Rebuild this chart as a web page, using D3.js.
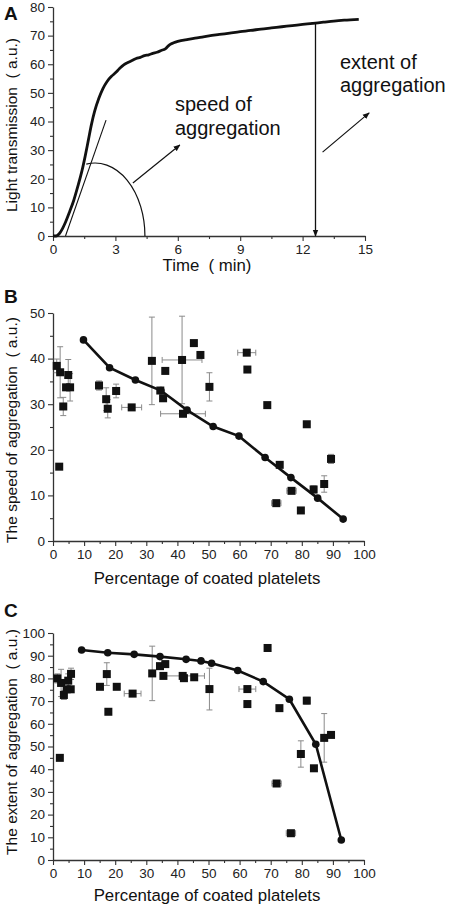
<!DOCTYPE html>
<html><head><meta charset="utf-8">
<script src="https://cdn.jsdelivr.net/npm/d3@7"></script>
<style>
html,body{margin:0;padding:0;background:#fff;}
svg{display:block;font-family:"Liberation Sans",Arial,sans-serif;}
</style></head>
<body>
<svg id="chart" width="450" height="906"></svg>
<script>
// ---------- Panel A data ----------
const timeMin = [0,0.15,0.3,0.45,0.6,0.8,1.0,1.2,1.4,1.55,1.7,1.85,2.0,2.2,2.4,2.6,2.8,3.0,3.2,3.4,3.6,3.8,4.0,4.2,4.4,4.6,4.8,5.0,5.2,5.4,5.6,5.8,6.0,6.5,7.0,7.5,8.0,8.5,9.0,9.5,10,10.5,11,11.5,12,12.5,13,13.5,14,14.7];
const transmission = [0,0,0.8,2.5,4.8,8.5,12.5,17.5,23,28,33.5,39,43.5,48,51.5,54,55.7,57,58.5,59.8,60.6,61.3,62,62.4,63,63.3,63.8,64.2,64.8,65.4,66.8,67.5,68,68.7,69.3,69.9,70.4,70.9,71.4,71.8,72.3,72.7,73.1,73.5,73.9,74.3,74.7,75.1,75.4,75.7];
const tangentT = [0.6, 2.55];
const tangentV = [0, 40.5];
const arcCenter = [2.02, 0];   // ellipse centre (min, a.u.)
const arcRadii = [2.4, 25.5];  // ellipse radii (min, a.u.)
const arcStartT = 1.6;
const arrowSpeed = [[3.84,18.5],[6.1,31.8]];
const arrowExtent = [[12.96,29.3],[15.2,43]];
const extentT = 12.62, extentV = 74.5;
const ticksA_x = [0,3,6,9,12,15];
const ticksA_y = [0,10,20,30,40,50,60,70,80];

// ---------- Panel B data ----------
const bLineX = [9.8,18.2,26.5,34.7,43.1,51.5,59.8,68.2,76.5,85.1,93.3];
const bLineY = [44.1,38.0,35.3,33.0,28.7,25.1,23.0,18.3,13.9,9.4,4.8];
const bX    = [1.2,2.3,3.3,4.9,4.2,5.5,14.8,17.1,17.6,20.3,25.3,31.8,34.5,35.4,36.1,41.5,41.8,45.3,47.4,50.3,62.3,62.5,68.9,81.6,2.0,72.9,76.7,71.8,79.7,83.8,87.2,89.4];
const bY    = [38.4,37.0,29.5,36.4,33.7,33.7,34.1,31.1,29.0,32.9,29.3,39.5,33.0,31.3,37.3,39.7,27.9,43.4,40.8,33.8,41.3,37.6,29.8,25.6,16.3,16.7,11.0,8.3,6.7,11.3,12.5,18.0];
const bYErr = [1.5,5.6,2,3.4,0,3,1,2.5,2,1.5,0,9.6,0,0,0,9.6,0,0,0,3.1,0,0,0,0,0,0,0,0,0,0.8,1.8,1];
const bXErr = [0,0,0,0,0,0,0,0,0,0,3.2,0,0,0,0,6.4,7.2,0,0,0,2.9,0,0,0,0,0,1.5,1.5,0,0,0,0];

// ---------- Panel C data ----------
const cLineX = [9.2,17.6,26.1,34.4,42.8,47.6,51.0,59.4,67.6,76.0,84.5,92.7];
const cLineY = [92.5,91.3,90.6,89.6,88.4,87.7,86.7,83.5,78.6,70.8,51.0,8.8];
const cX    = [1.4,2.6,3.5,4.4,4.9,5.8,5.7,15.1,17.3,17.8,20.5,25.6,31.9,34.4,36.1,35.5,41.7,42.1,45.4,50.3,69.0,62.5,62.5,72.8,81.6,87.2,89.4,79.7,83.9,71.9,76.5,2.2];
const cY    = [80.0,78.0,72.7,75.2,79.0,82.0,75.2,76.3,81.9,65.3,76.3,73.3,82.2,85.4,86.3,81.1,81.1,80.1,80.5,75.3,93.4,75.3,68.7,66.9,70.2,53.8,55.1,46.7,40.4,33.7,11.8,45.0];
const cYErr = [2,6,2,0,3,2.5,0,0,5,0,0,0,12,0,0,0,0,0,0,9.2,0,0,0,0,1.5,10.7,0,5.8,0,0,0,0];
const cXErr = [0,0,0,0,0,0,0,0,0,0,0,2.7,0,0,0,0,7,0,0,0,0,2.7,0,0,0,0,0,0,0,1.5,1.5,0];
const ticksBC_x = [0,10,20,30,40,50,60,70,80,90,100];
const ticksB_y = [0,10,20,30,40,50];
const ticksC_y = [0,10,20,30,40,50,60,70,80,90,100];

const svg = d3.select("#chart");
const AX = "#333", TXT = "#222", ERR = "#8a8a8a";
const GAP = "\u00a0\u00a0";

svg.append("defs").append("marker")
  .attr("id","ah").attr("viewBox","0 0 10 10").attr("refX",9).attr("refY",5)
  .attr("markerWidth",7).attr("markerHeight",7).attr("orient","auto-start-reverse")
  .attr("markerUnits","userSpaceOnUse")
  .append("path").attr("d","M0,1 L10,5 L0,9 Z").attr("fill","#111");

function drawAxes(g, x, y, xt, xMinor, yt, yMinor) {
  g.append("g").attr("transform",`translate(0,${y.range()[0]})`)
    .call(d3.axisBottom(x).tickValues(xt).tickSize(5).tickSizeOuter(0).tickPadding(3).tickFormat(d3.format("d")));
  g.append("g").attr("transform",`translate(0,${y.range()[0]})`)
    .call(d3.axisBottom(x).tickValues(xMinor).tickSize(3).tickSizeOuter(0).tickFormat(""))
    .select(".domain").remove();
  g.append("g").attr("transform",`translate(${x.range()[0]},0)`)
    .call(d3.axisLeft(y).tickValues(yt).tickSize(5).tickSizeOuter(0).tickPadding(3).tickFormat(d3.format("d")));
  g.append("g").attr("transform",`translate(${x.range()[0]},0)`)
    .call(d3.axisLeft(y).tickValues(yMinor).tickSize(3).tickSizeOuter(0).tickFormat(""))
    .select(".domain").remove();
  g.selectAll(".domain").attr("stroke",AX).attr("stroke-width",1.3);
  g.selectAll(".tick line").attr("stroke",AX).attr("stroke-width",1.1);
  g.selectAll(".tick text").attr("fill",TXT).style("font-size","13.5px").style("font-family","'Liberation Sans',Arial,sans-serif");
}

function label(txt, x, y, size, rot, weight) {
  const t = svg.append("text").text(txt).attr("fill","#111")
    .style("font-size",size+"px").attr("text-anchor","middle")
    .attr("font-weight",weight||"normal");
  if (rot) t.attr("transform",`translate(${x},${y}) rotate(-90)`);
  else t.attr("x",x).attr("y",y);
  return t;
}

// ---------- Panel A ----------
{
  const x = d3.scaleLinear([0,15],[53,365]);
  const y = d3.scaleLinear([0,80],[236,7]);
  const g = svg.append("g");
  drawAxes(g, x, y, ticksA_x, [1.5,4.5,7.5,10.5,13.5], ticksA_y, [5,15,25,35,45,55,65,75]);
  const line = d3.line().x((d,i)=>x(timeMin[i])).y(d=>y(d)).curve(d3.curveMonotoneX);
  g.append("path").datum(transmission).attr("d",line).attr("fill","none")
    .attr("stroke","#111").attr("stroke-width",2.8).attr("stroke-linejoin","round");
  g.append("line").attr("x1",x(tangentT[0])).attr("y1",y(tangentV[0]))
    .attr("x2",x(tangentT[1])).attr("y2",y(tangentV[1])).attr("stroke","#111").attr("stroke-width",1.1);
  const cx = x(arcCenter[0]), cy = y(arcCenter[1]);
  const rx = x(arcCenter[0]+arcRadii[0]) - cx, ry = cy - y(arcRadii[1]);
  const dx0 = x(arcStartT) - cx;
  const sy0 = cy - ry*Math.sqrt(1 - (dx0/rx)*(dx0/rx));
  g.append("path").attr("d",`M${x(arcStartT)},${sy0} A${rx},${ry} 0 0 1 ${cx+rx},${cy}`)
    .attr("fill","none").attr("stroke","#111").attr("stroke-width",1.2);
  [arrowSpeed, arrowExtent].forEach(a => {
    g.append("line").attr("x1",x(a[0][0])).attr("y1",y(a[0][1]))
      .attr("x2",x(a[1][0])).attr("y2",y(a[1][1])).attr("stroke","#111").attr("stroke-width",1.2)
      .attr("marker-end","url(#ah)");
  });
  g.append("line").attr("x1",x(extentT)).attr("y1",y(extentV)).attr("x2",x(extentT)).attr("y2",y(0))
    .attr("stroke","#111").attr("stroke-width",1.3).attr("marker-end","url(#ah)");
  g.append("line").attr("x1",x(extentT)-4).attr("y1",y(extentV)).attr("x2",x(extentT)+4).attr("y2",y(extentV))
    .attr("stroke","#111").attr("stroke-width",1.2);
  const ann = (t,xx,yy)=>svg.append("text").text(t).attr("x",xx).attr("y",yy).attr("fill","#111").style("font-size","20px");
  ann("speed of",175,111); ann("aggregation",175,135);
  ann("extent of",340,69); ann("aggregation",340,92);
  label("Time"+GAP+"( min)", 207, 271, 16.8);
  label("Light transmission"+GAP+"( a.u.)", 17, 125, 15.5, true);
  svg.append("text").text("A").attr("x",4).attr("y",20).attr("font-weight","bold").style("font-size","19px").attr("fill","#111");
}

function scatterPanel(x, y, lx, ly, px, py, ex, ey, xt, xm, yt, ym) {
  const g = svg.append("g");
  drawAxes(g, x, y, xt, xm, yt, ym);
  const eb = g.append("g").attr("stroke",ERR).attr("stroke-width",1);
  px.forEach((v,i)=>{
    if (ey[i]>0) {
      const X=x(v), y1=y(py[i]+ey[i]), y2=y(py[i]-ey[i]);
      eb.append("line").attr("x1",X).attr("x2",X).attr("y1",y1).attr("y2",y2);
      eb.append("line").attr("x1",X-3).attr("x2",X+3).attr("y1",y1).attr("y2",y1);
      eb.append("line").attr("x1",X-3).attr("x2",X+3).attr("y1",y2).attr("y2",y2);
    }
    if (ex[i]>0) {
      const Y=y(py[i]), x1=x(v-ex[i]), x2=x(v+ex[i]);
      eb.append("line").attr("x1",x1).attr("x2",x2).attr("y1",Y).attr("y2",Y);
      eb.append("line").attr("x1",x1).attr("x2",x1).attr("y1",Y-3).attr("y2",Y+3);
      eb.append("line").attr("x1",x2).attr("x2",x2).attr("y1",Y-3).attr("y2",Y+3);
    }
  });
  g.append("path").datum(ly).attr("d",d3.line().x((d,i)=>x(lx[i])).y(d=>y(d)))
    .attr("fill","none").attr("stroke","#111").attr("stroke-width",2.6);
  g.selectAll("circle.c").data(ly).join("circle").attr("cx",(d,i)=>x(lx[i])).attr("cy",d=>y(d))
    .attr("r",3.8).attr("fill","#111");
  g.selectAll("rect.s").data(py).join("rect").attr("x",(d,i)=>x(px[i])-4).attr("y",d=>y(d)-4)
    .attr("width",8).attr("height",8).attr("fill","#111");
}

// ---------- Panel B ----------
{
  const x = d3.scaleLinear([0,100],[53,364]);
  const y = d3.scaleLinear([0,50],[541,313]);
  scatterPanel(x,y,bLineX,bLineY,bX,bY,bXErr,bYErr,ticksBC_x,[5,15,25,35,45,55,65,75,85,95],ticksB_y,[5,15,25,35,45]);
  label("Percentage of coated platelets", 207, 584, 16.8);
  label("The speed of aggregation"+GAP+"( a.u.)", 17, 430, 15.5, true);
  svg.append("text").text("B").attr("x",4).attr("y",303).attr("font-weight","bold").style("font-size","19px").attr("fill","#111");
}

// ---------- Panel C ----------
{
  const x = d3.scaleLinear([0,100],[53,364]);
  const y = d3.scaleLinear([0,100],[860,633]);
  scatterPanel(x,y,cLineX,cLineY,cX,cY,cXErr,cYErr,ticksBC_x,[5,15,25,35,45,55,65,75,85,95],ticksC_y,[5,15,25,35,45,55,65,75,85,95]);
  label("Percentage of coated platelets", 207, 901, 16.8);
  label("The extent of aggregation"+GAP+"( a.u.)", 17, 742, 15.5, true);
  svg.append("text").text("C").attr("x",4).attr("y",617).attr("font-weight","bold").style("font-size","19px").attr("fill","#111");
}
</script>
</body></html>
